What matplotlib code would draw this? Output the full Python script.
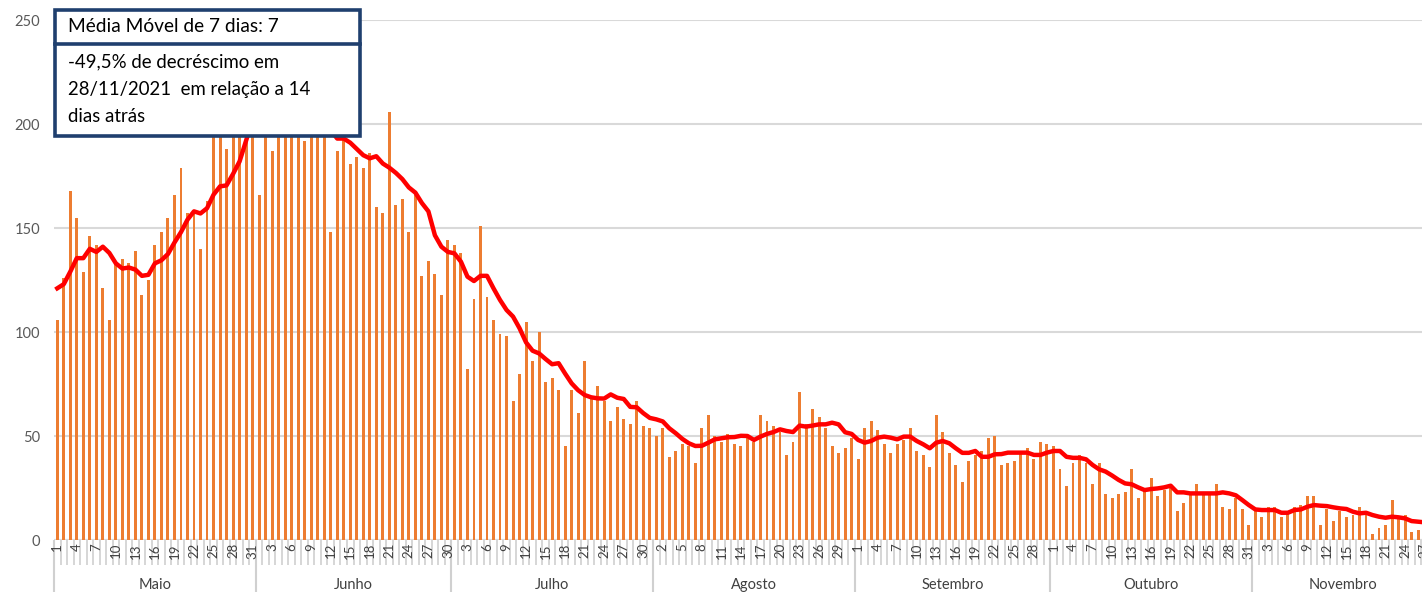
import numpy as np
import matplotlib
matplotlib.use('Agg')
import matplotlib.pyplot as plt
import matplotlib.transforms as mtransforms
from matplotlib.patches import Rectangle
from matplotlib.lines import Line2D

# casos diarios, 01/05/2021 a 28/11/2021
months = ["Maio", "Junho", "Julho", "Agosto", "Setembro", "Outubro", "Novembro"]
month_days = [31, 30, 31, 31, 30, 31, 28]

cases_may = [106, 126, 168, 155, 129, 146, 142, 121, 106, 133, 135, 133, 139, 118, 125, 142,
             148, 155, 166, 179, 157, 158, 140, 163, 210, 220, 188, 200, 215, 225, 230]
cases_jun = [166, 215, 187, 210, 205, 220, 212, 192, 218, 210, 205, 148, 187, 196, 181, 184,
             179, 186, 160, 157, 206, 161, 164, 148, 166, 127, 134, 128, 118, 144]
cases_jul = [142, 138, 82, 116, 151, 117, 106, 99, 98, 67, 80, 105, 86, 100, 76, 78,
             72, 45, 72, 61, 86, 68, 74, 67, 57, 64, 58, 56, 67, 55, 54]
cases_aug = [50, 54, 40, 43, 46, 45, 37, 54, 60, 50, 47, 51, 46, 45, 49, 47,
             60, 57, 55, 52, 41, 47, 71, 56, 63, 59, 54, 45, 42, 44, 49]
cases_sep = [39, 54, 57, 53, 46, 42, 46, 48, 54, 43, 41, 35, 60, 52, 42, 36,
             28, 38, 41, 43, 49, 50, 36, 37, 38, 42, 44, 39, 47, 46]
cases_oct = [45, 34, 26, 37, 41, 37, 27, 37, 22, 20, 22, 23, 34, 20, 24, 30,
             21, 24, 25, 14, 18, 22, 27, 22, 22, 27, 16, 15, 20, 15, 7]
cases_nov = [15, 11, 16, 16, 11, 14, 16, 17, 21, 21, 7, 15, 9, 14, 11, 12,
             16, 12, 3, 6, 7, 19, 10, 12, 4, 5, 8, 6]

# media movel de 7 dias
ma_may = [121, 123, 129, 135.5, 135.5, 140, 138.5, 141, 138, 133, 130.5, 131, 130, 127, 127.5, 133,
          134.5, 137.5, 143, 148, 154, 158, 157, 159.5, 166, 170, 170.5, 176, 182, 192, 202]
ma_jun = [206, 209, 211, 212, 212, 211, 210, 208, 206, 203, 200, 197, 193, 193, 191, 188,
          185, 183.5, 184.5, 181, 179, 176.5, 173.5, 169.5, 167, 162, 158, 146.5, 141, 138.5]
ma_jul = [137.8, 133.8, 126.6, 124.5, 127, 127, 121, 115.4, 110.6, 107.4, 101.8, 95, 91, 89.7, 87, 84.5,
          85, 80, 75.3, 72, 69.7, 68.6, 68.1, 68, 70, 68.4, 67.8, 64, 63.8, 61, 58.7]
ma_aug = [58, 57, 53.7, 51.3, 48.6, 46.5, 45.2, 45.3, 46.8, 48.4, 48.9, 49.4, 49.5, 50.1, 50, 48.1,
          49.7, 51, 51.9, 53.2, 52.4, 51.9, 55, 54.5, 55, 55.6, 55.6, 56.4, 55.6, 51.8, 51]
ma_sep = [48.1, 46.8, 47.6, 49.2, 49.7, 49.2, 48.4, 49.7, 49.7, 47.6, 46, 44.1, 46.8, 47.6, 46.5, 44.1,
          41.9, 41.9, 42.8, 40, 40, 41.2, 41.3, 42, 42, 42, 42, 40.9, 40.9, 42]
ma_oct = [42.8, 42.8, 40, 39.5, 39.5, 38.8, 36.1, 34, 32.9, 31, 28.9, 27.2, 26.8, 25.3, 24, 24.5,
          24.8, 25.3, 26.1, 22.9, 22.9, 22.4, 22.4, 22.4, 22.4, 22.4, 22.9, 22.4, 21.5, 19.2, 16.8]
ma_nov = [14.7, 14.4, 14.4, 14.4, 13.1, 13.1, 14.4, 14.7, 16, 16.8, 16.5, 16.3, 15.7, 15.2, 14.9, 13.6,
          12.8, 13.1, 12, 11.2, 10.7, 11.2, 10.9, 10.4, 9.1, 8.8, 8.5, 8.2]

box_title = "Média Móvel de 7 dias: 7"
box_text = ["-49,5% de decréscimo em", "28/11/2021  em relação a 14", "dias atrás"]

cases = cases_may + cases_jun + cases_jul + cases_aug + cases_sep + cases_oct + cases_nov
ma = ma_may + ma_jun + ma_jul + ma_aug + ma_sep + ma_oct + ma_nov
day_nums = [d for n in month_days for d in range(1, n + 1)]
x = np.arange(len(cases))

plt.rcParams['font.family'] = ['Lato', 'DejaVu Sans']

fig = plt.figure(figsize=(14.22, 5.92), dpi=100)
ax = fig.add_axes([54 / 1422, 52 / 592, 1368 / 1422, 520 / 592])

ax.bar(x, cases, width=0.45, color='#ED7D31', zorder=2)
ax.plot(x, ma, color='#FF0000', lw=3.2, zorder=3, solid_joinstyle='round')

ax.set_ylim(0, 250)
ax.set_xlim(-0.5, 209.6)
ax.set_yticks(range(0, 251, 50))
ax.yaxis.grid(True, color='#d9d9d9', lw=1.5, zorder=0)
ax.tick_params(axis='y', length=0, pad=10, labelsize=10.5, labelcolor='#595959')
ax.set_xticks([])
for s in ax.spines.values():
    s.set_visible(False)
ax.axhline(0, color='#d9d9d9', lw=1.5, zorder=1)

# eixo de categorias em dois niveis (dias / meses)
trans = mtransforms.blended_transform_factory(ax.transData, ax.transAxes)
bounds = np.arange(len(cases) + 1) - 0.5
ax.vlines(bounds, -0.048, 0, transform=trans, color='#d0d0d0', lw=1.2, clip_on=False)
for i in x[::3]:
    ax.text(i, -0.006, str(day_nums[i]), transform=trans, rotation=90, ha='center', va='top',
            fontsize=9.5, color='#404040', clip_on=False)
start = 0
for name, n in zip(months, month_days):
    ax.vlines(start - 0.5, -0.1, 0, transform=trans, color='#d0d0d0', lw=1.5, clip_on=False)
    ax.text(start + (n - 1) / 2, -0.087, name, transform=trans, ha='center', va='center',
            fontsize=10.5, color='#404040')
    start += n

# caixa de texto
W, H = 1422, 592
fig.patches.append(Rectangle((55 / W, 1 - 136 / H), 305 / W, 126 / H, transform=fig.transFigure,
                             facecolor='white', edgecolor='#1f3f6e', lw=2.6, zorder=10))
fig.lines.append(Line2D([55 / W, 360 / W], [1 - 44 / H, 1 - 44 / H], transform=fig.transFigure,
                        color='#1f3f6e', lw=2.6, zorder=11))
fig.text(68 / W, 1 - 27 / H, box_title, fontsize=13.8, va='center', ha='left', zorder=12)
for k, line in enumerate(box_text):
    fig.text(68 / W, 1 - (62 + 27 * k) / H, line, fontsize=13.4, va='center', ha='left', zorder=12)

fig.savefig('out.png', dpi=100)
